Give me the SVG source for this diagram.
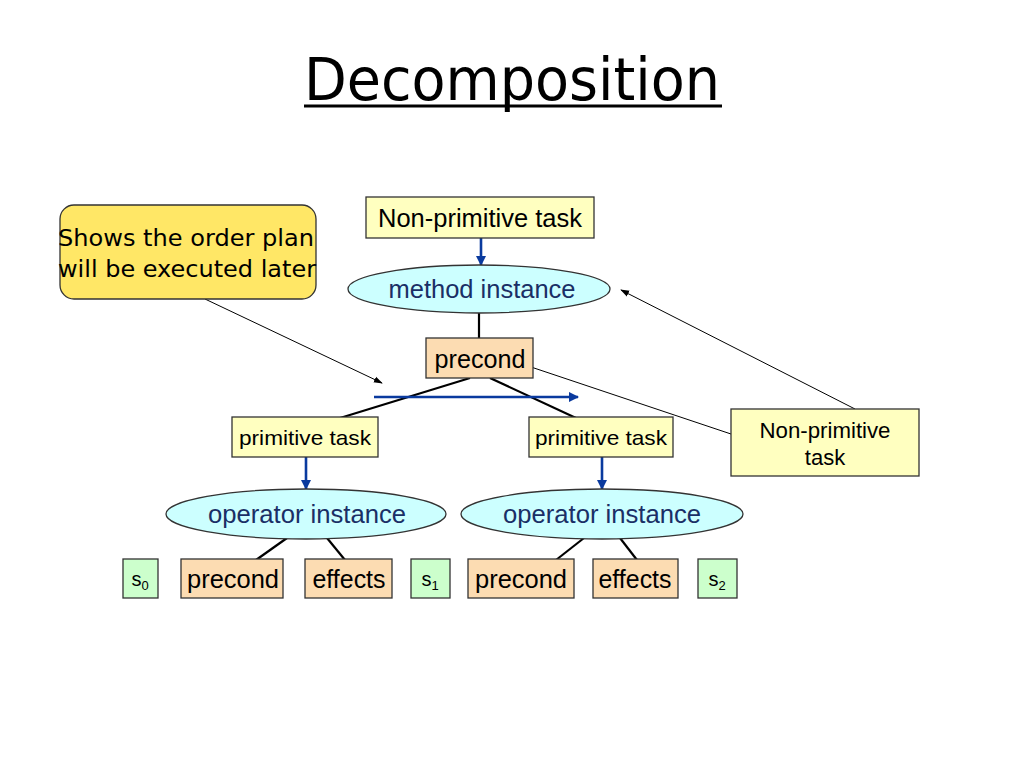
<svg xmlns="http://www.w3.org/2000/svg" width="1024" height="768" viewBox="0 0 1024 768">
<defs>
<style>
.box{stroke:#333;stroke-width:1.3}
.yl{fill:#FFFFC0}
.pc{fill:#FCDCB2}
.gr{fill:#CCFFCC}
.el{fill:#CCFFFF;stroke:#333;stroke-width:1.3}
.t{font-family:"Liberation Sans",Arial,sans-serif;fill:#000;text-anchor:middle}
.tb{font-family:"Liberation Sans",Arial,sans-serif;fill:#1a2f66;text-anchor:middle}
.c{font-family:"Comic Sans MS","DejaVu Sans",sans-serif;fill:#000}
.ln{stroke:#000;stroke-width:2.2;fill:none}
.th{stroke:#000;stroke-width:1;fill:none}
.bl{stroke:#0a3a9e;stroke-width:2.6;fill:none}
</style>
<marker id="ab" viewBox="0 0 10 10" refX="9" refY="5" markerWidth="4" markerHeight="4" orient="auto"><path d="M0,0 L10,5 L0,10 z" fill="#0a3a9e"/></marker>
<marker id="ak" viewBox="0 0 10 10" refX="9" refY="5" markerWidth="9" markerHeight="9" orient="auto"><path d="M0,1.5 L10,5 L0,8.5 z" fill="#000"/></marker>
</defs>
<rect width="1024" height="768" fill="#fff"/>
<g id="title">
<text x="512" y="100" class="c" font-size="58" text-anchor="middle" textLength="416" lengthAdjust="spacingAndGlyphs">Decomposition</text>
<line x1="304" y1="106" x2="722" y2="106" stroke="#000" stroke-width="3"/>
</g>
<g id="connectors">
<line x1="481" y1="238" x2="481" y2="265" class="bl" marker-end="url(#ab)"/>
<line x1="479" y1="313" x2="479" y2="338" class="ln"/>
<line x1="470" y1="378" x2="340" y2="418" class="ln"/>
<line x1="490" y1="378" x2="576" y2="418" class="ln"/>
<line x1="374" y1="397" x2="578" y2="397" class="bl" marker-end="url(#ab)"/>
<line x1="205" y1="299" x2="382" y2="383" class="th" marker-end="url(#ak)"/>
<line x1="531" y1="367" x2="731" y2="434" class="th"/>
<line x1="855" y1="409" x2="621" y2="290" class="th" marker-end="url(#ak)"/>
<line x1="306" y1="457" x2="306" y2="489" class="bl" marker-end="url(#ab)"/>
<line x1="602" y1="457" x2="602" y2="489" class="bl" marker-end="url(#ab)"/>
<line x1="287" y1="538" x2="256" y2="560" class="ln"/>
<line x1="327" y1="538" x2="345" y2="560" class="ln"/>
<line x1="584" y1="538" x2="556" y2="560" class="ln"/>
<line x1="620" y1="538" x2="637" y2="560" class="ln"/>
</g>
<g id="callout">
<rect x="60" y="205" width="256" height="94" rx="14" fill="#FFE766" stroke="#333" stroke-width="1.3"/>
<text x="58" y="246" class="c" font-size="23" textLength="256" lengthAdjust="spacingAndGlyphs">Shows the order plan</text>
<text x="58" y="277" class="c" font-size="23" textLength="258" lengthAdjust="spacingAndGlyphs">will be executed later</text>
</g>
<g id="np-top">
<rect x="366" y="197" width="228" height="41" class="box yl"/>
<text x="480" y="227" class="t" font-size="25" textLength="204" lengthAdjust="spacingAndGlyphs">Non-primitive task</text>
</g>
<g id="method">
<ellipse cx="479" cy="289" rx="131" ry="24" class="el"/>
<text x="482" y="298" class="tb" font-size="26" textLength="187" lengthAdjust="spacingAndGlyphs">method instance</text>
</g>
<g id="precond-top">
<rect x="426" y="338" width="107" height="40" class="box pc"/>
<text x="480" y="368" class="t" font-size="25" textLength="91" lengthAdjust="spacingAndGlyphs">precond</text>
</g>
<g id="prim-left">
<rect x="232" y="417" width="146" height="40" class="box yl"/>
<text x="305" y="445" class="t" font-size="21" textLength="132" lengthAdjust="spacingAndGlyphs">primitive task</text>
</g>
<g id="prim-right">
<rect x="529" y="417" width="144" height="40" class="box yl"/>
<text x="601" y="445" class="t" font-size="21" textLength="132" lengthAdjust="spacingAndGlyphs">primitive task</text>
</g>
<g id="np-right">
<rect x="731" y="409" width="188" height="67" class="box yl"/>
<text x="825" y="438" class="t" font-size="22" textLength="131" lengthAdjust="spacingAndGlyphs">Non-primitive</text>
<text x="825" y="465" class="t" font-size="22">task</text>
</g>
<g id="op-left">
<ellipse cx="306" cy="514" rx="140" ry="25" class="el"/>
<text x="307" y="523" class="tb" font-size="25" textLength="198" lengthAdjust="spacingAndGlyphs">operator instance</text>
</g>
<g id="op-right">
<ellipse cx="602" cy="514" rx="141" ry="25" class="el"/>
<text x="602" y="523" class="tb" font-size="25" textLength="198" lengthAdjust="spacingAndGlyphs">operator instance</text>
</g>
<g id="s0">
<rect x="123" y="559" width="35" height="39" class="box gr"/>
<text x="140" y="586" class="t" font-size="20">s<tspan font-size="13" dy="4">0</tspan></text>
</g>
<g id="precond1">
<rect x="181" y="559" width="102" height="39" class="box pc"/>
<text x="233" y="588" class="t" font-size="25" textLength="92" lengthAdjust="spacingAndGlyphs">precond</text>
</g>
<g id="effects1">
<rect x="305" y="559" width="87" height="39" class="box pc"/>
<text x="349" y="588" class="t" font-size="25" textLength="73" lengthAdjust="spacingAndGlyphs">effects</text>
</g>
<g id="s1">
<rect x="411" y="559" width="39" height="39" class="box gr"/>
<text x="430" y="586" class="t" font-size="20">s<tspan font-size="13" dy="4">1</tspan></text>
</g>
<g id="precond2">
<rect x="468" y="559" width="106" height="39" class="box pc"/>
<text x="521" y="588" class="t" font-size="25" textLength="92" lengthAdjust="spacingAndGlyphs">precond</text>
</g>
<g id="effects2">
<rect x="593" y="559" width="85" height="39" class="box pc"/>
<text x="635" y="588" class="t" font-size="25" textLength="73" lengthAdjust="spacingAndGlyphs">effects</text>
</g>
<g id="s2">
<rect x="698" y="559" width="39" height="39" class="box gr"/>
<text x="717" y="586" class="t" font-size="20">s<tspan font-size="13" dy="4">2</tspan></text>
</g>
</svg>
